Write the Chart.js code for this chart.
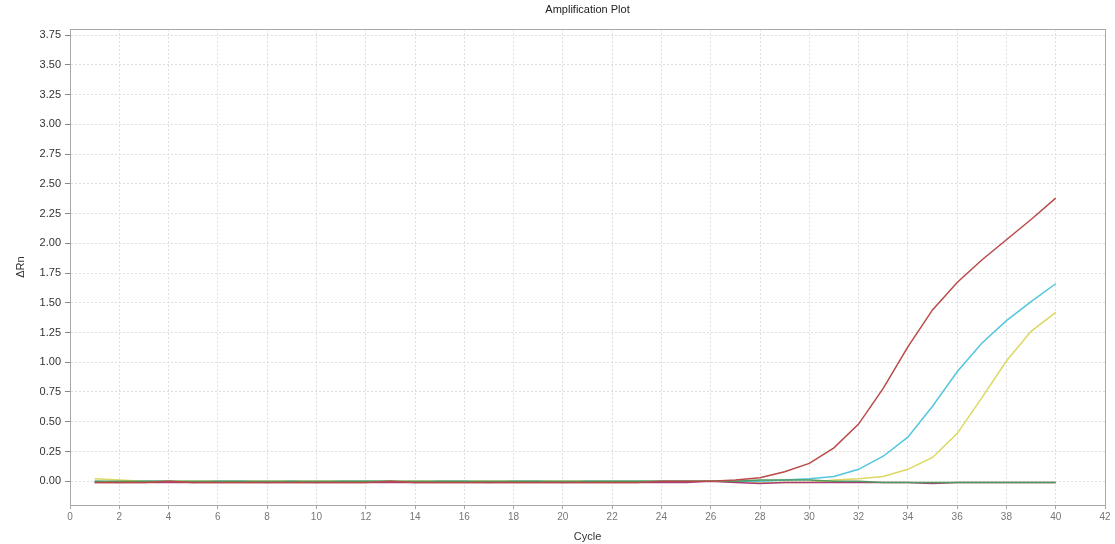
<!DOCTYPE html>
<html lang="en">
<head>
    <meta charset="UTF-8">
    <title>Amplification Plot</title>
    <script src="https://cdn.jsdelivr.net/npm/chart.js"></script>
    <style>
        html, body { margin: 0; padding: 0; background: #ffffff; }
        #wrap { width: 1115px; height: 544px; }
    </style>
</head>
<body>
<div id="wrap"><canvas id="ampChart" width="1115" height="544"></canvas></div>
<script>
    // cycle numbers
    const cycles = [1, 2, 3, 4, 5, 6, 7, 8, 9, 10, 11, 12, 13, 14, 15, 16, 17, 18, 19, 20,
                    21, 22, 23, 24, 25, 26, 27, 28, 29, 30, 31, 32, 33, 34, 35, 36, 37, 38, 39, 40];

    // delta Rn per well
    const redWell = [-0.01, -0.01, -0.01, 0.00, -0.01, -0.01, -0.01, -0.01, -0.01, -0.01,
                     -0.01, -0.01, 0.00, -0.01, -0.01, -0.01, -0.01, -0.01, -0.01, -0.01,
                     -0.01, -0.01, -0.01, 0.00, 0.00, 0.00, 0.01, 0.03, 0.08, 0.15,
                     0.28, 0.48, 0.78, 1.13, 1.44, 1.67, 1.86, 2.03, 2.20, 2.38];
    const cyanWell = [0.00, -0.01, 0.00, 0.00, -0.01, 0.00, 0.00, -0.01, 0.00, -0.01,
                      0.00, 0.00, 0.00, -0.01, 0.00, 0.00, -0.01, 0.00, 0.00, -0.01,
                      0.00, 0.00, 0.00, 0.00, 0.00, 0.00, 0.00, 0.00, 0.01, 0.02,
                      0.04, 0.10, 0.21, 0.37, 0.63, 0.92, 1.16, 1.35, 1.51, 1.66];
    const yellowWell = [0.02, 0.01, 0.00, 0.00, 0.00, 0.00, 0.00, 0.00, 0.00, 0.00,
                        0.00, 0.00, 0.00, 0.00, 0.00, 0.00, 0.00, 0.00, 0.00, 0.00,
                        0.00, 0.00, 0.00, 0.00, 0.00, 0.00, 0.00, -0.01, -0.01, -0.01,
                        0.01, 0.02, 0.04, 0.10, 0.20, 0.40, 0.70, 1.01, 1.26, 1.42];
    const greenWell = [0.00, 0.00, 0.00, 0.00, 0.00, 0.00, 0.00, 0.00, 0.00, 0.00,
                       0.00, 0.00, 0.00, 0.00, 0.00, 0.00, 0.00, 0.00, 0.00, 0.00,
                       0.00, 0.00, 0.00, 0.00, 0.00, 0.00, 0.00, 0.01, 0.01, 0.01,
                       0.00, 0.00, -0.01, -0.01, -0.01, -0.01, -0.01, -0.01, -0.01, -0.01];
    const magentaWell = [-0.01, -0.01, -0.01, -0.01, -0.01, -0.01, -0.01, -0.01, -0.01, -0.01,
                         -0.01, -0.01, -0.01, -0.01, -0.01, -0.01, -0.01, -0.01, -0.01, -0.01,
                         -0.01, -0.01, -0.01, -0.01, -0.01, 0.00, -0.01, -0.02, -0.01, -0.01,
                         -0.01, -0.01, -0.01, -0.01, -0.02, -0.01, -0.01, -0.01, -0.01, -0.01];

    const wellNames = ['Well A', 'Well B', 'Well C', 'Well D', 'Well E'];
    const yTicks = [0, 0.25, 0.5, 0.75, 1, 1.25, 1.5, 1.75, 2, 2.25, 2.5, 2.75, 3, 3.25, 3.5, 3.75];

    const toPoints = arr => cycles.map((c, i) => ({ x: c, y: arr[i] }));

    // draws the solid frame round the plot area
    const frame = {
        id: 'frame',
        afterDraw(chart) {
            const a = chart.chartArea;
            const ctx = chart.ctx;
            ctx.save();
            ctx.strokeStyle = '#a8a8a8';
            ctx.lineWidth = 1;
            ctx.strokeRect(Math.round(a.left) + 0.5, Math.round(a.top) + 0.5,
                           Math.round(a.right - a.left), Math.round(a.bottom - a.top));
            ctx.restore();
        }
    };

    const line = (name, arr, color) => ({
        label: name,
        data: toPoints(arr),
        borderColor: color,
        backgroundColor: color,
        borderWidth: 1.5,
        pointRadius: 0,
        tension: 0,
        fill: false
    });

    new Chart(document.getElementById('ampChart'), {
        type: 'line',
        data: {
            datasets: [
                line(wellNames[0], redWell, '#b94a48'),
                line(wellNames[3], greenWell, '#4f9a5c'),
                line(wellNames[4], magentaWell, '#a83c78'),
                line(wellNames[1], cyanWell, '#52c6de'),
                line(wellNames[2], yellowWell, '#dcd861')
            ]
        },
        options: {
            responsive: false,
            animation: false,
            layout: { padding: { left: 0, right: 10, top: 0, bottom: 0 } },
            plugins: {
                legend: { display: false },
                tooltip: { enabled: false },
                title: {
                    display: true,
                    text: 'Amplification Plot',
                    fullSize: false,
                    color: '#222',
                    font: { family: 'Liberation Sans', size: 11, weight: 'normal' },
                    padding: { top: 3, bottom: 13 }
                }
            },
            scales: {
                x: {
                    type: 'linear',
                    min: 0,
                    max: 42,
                    afterFit: s => { s.height = 39; },
                    ticks: {
                        stepSize: 2,
                        color: '#777',
                        font: { family: 'Liberation Sans', size: 10 },
                        padding: 2,
                        maxRotation: 0
                    },
                    grid: { color: '#dedede', tickColor: '#a8a8a8', tickLength: 4 },
                    border: { color: '#a8a8a8', dash: [2, 2] },
                    title: {
                        display: true,
                        text: 'Cycle',
                        color: '#333',
                        font: { family: 'Liberation Sans', size: 11 },
                        padding: { top: 2, bottom: 0 }
                    }
                },
                y: {
                    min: -0.2,
                    max: 3.8,
                    afterFit: s => { s.width = 70; },
                    afterBuildTicks: s => { s.ticks = yTicks.map(v => ({ value: v })); },
                    ticks: {
                        color: '#333',
                        font: { family: 'Liberation Sans', size: 11 },
                        padding: 4,
                        callback: v => v.toFixed(2)
                    },
                    grid: { color: '#dedede', tickColor: '#888', tickLength: 5 },
                    border: { color: '#a8a8a8', dash: [2, 2] },
                    title: {
                        display: true,
                        text: 'ΔRn',
                        color: '#333',
                        font: { family: 'Liberation Sans', size: 11 },
                        padding: { top: 14, bottom: 0 }
                    }
                }
            }
        },
        plugins: [frame]
    });
</script>
</body>
</html>
